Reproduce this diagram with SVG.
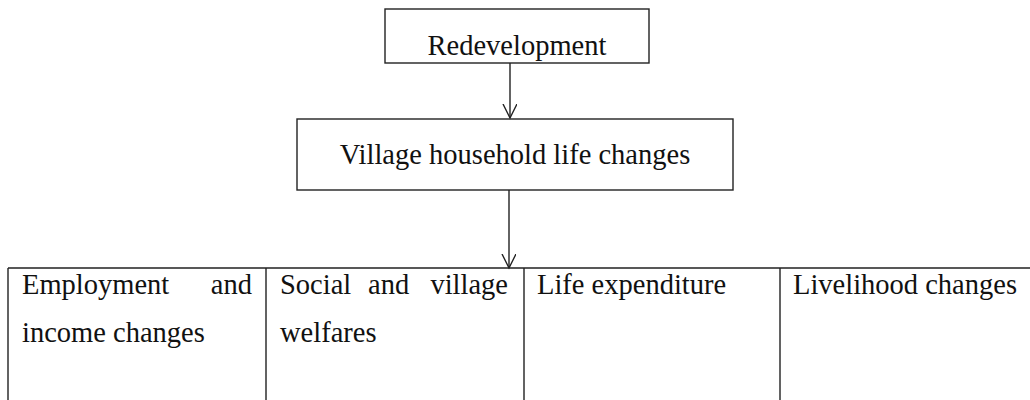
<svg xmlns="http://www.w3.org/2000/svg" width="1030" height="400" viewBox="0 0 1030 400">
<style>
.box{fill:#fff;stroke:#222;stroke-width:1.4}
.ln{fill:none;stroke:#222;stroke-width:1.4}
text{font-family:"Liberation Serif","Times New Roman",serif;font-size:28.5px;fill:#111}
</style>
<defs>
<marker id="arr" markerWidth="16" markerHeight="16" refX="14" refY="7" orient="auto" markerUnits="userSpaceOnUse">
<path d="M0,0 L14,7 L0,14" fill="none" stroke="#222" stroke-width="1.4"/>
</marker>
</defs>
<rect width="1030" height="400" fill="#fff"/>
<g id="node-redevelopment">
<rect class="box" x="385" y="9" width="264" height="54"/>
<text x="517" y="55" text-anchor="middle">Redevelopment</text>
</g>
<g id="node-village">
<rect class="box" x="297" y="119" width="436" height="71"/>
<text x="515" y="164" text-anchor="middle">Village household life changes</text>
</g>
<g id="node-table">
<path class="ln" d="M8,268 H1031 M8,268 V401 M266,268 V401 M524,268 V401 M780,268 V401"/>
</g>
<g id="node-employment">
<text x="22" y="294">Employment</text>
<text x="252" y="294" text-anchor="end">and</text>
<text x="22" y="342">income changes</text>
</g>
<g id="node-social">
<text x="280" y="294">Social</text>
<text x="368" y="294">and</text>
<text x="508" y="294" text-anchor="end">village</text>
<text x="280" y="342">welfares</text>
</g>
<g id="node-expenditure">
<text x="537" y="294">Life expenditure</text>
</g>
<g id="node-livelihood">
<text x="793" y="294">Livelihood changes</text>
</g>
<g id="connectors">
<line class="ln" x1="510" y1="63" x2="510" y2="118" marker-end="url(#arr)"/>
<line class="ln" x1="509" y1="190" x2="509" y2="268" marker-end="url(#arr)"/>
</g>
</svg>
